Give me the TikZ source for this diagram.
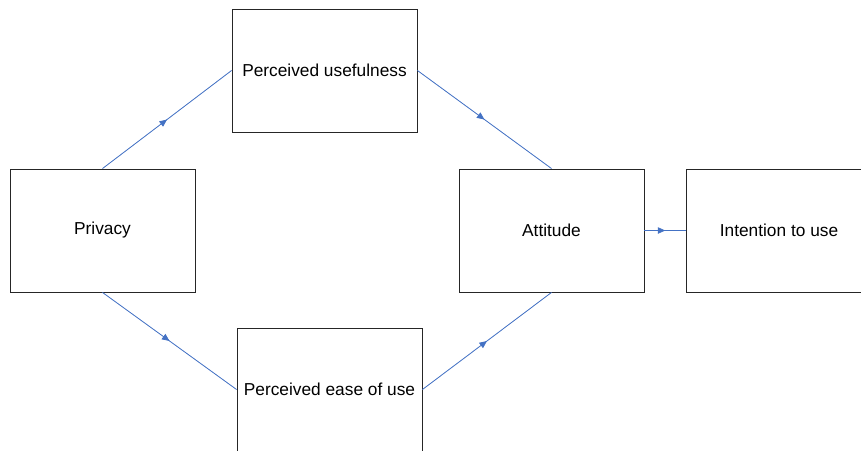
\documentclass[tikz,border=0pt]{standalone}
\usepackage{fontspec}
\setmainfont{Liberation Sans}
\usetikzlibrary{decorations.markings,arrows.meta}
\definecolor{linkblue}{HTML}{4472C4}
\begin{document}
\begin{tikzpicture}[x=1pt,y=-1pt,
  construct/.style={draw=black!85,line width=0.9pt,minimum width=185pt,minimum height=123pt,
    inner sep=0pt,font=\fontsize{17.3}{20}\selectfont,fill=white},
  link/.style={draw=linkblue,line width=0.8pt,postaction={decorate},
    decoration={markings,mark=at position 0.5 with {\arrow{Triangle[length=7.5pt,width=6.5pt]}}},
    fill=linkblue}]
\useasboundingbox (0,0) rectangle (861,450);
\clip (0,0) rectangle (861,450);
\node[construct] (priv) at (102.5,230.5) {Privacy};
\node[construct] (pu) at (324.5,70.5) {Perceived usefulness};
\node[construct] (att) at (551.5,230.5) {Attitude};
\node[construct] (int) at (779,230.5) {Intention to use};
\node[construct] (peou) at (329.5,389.5) {Perceived ease of use};
\draw[link] (priv.north) -- (pu.west);
\draw[link] (pu.east) -- (att.north);
\draw[link] (priv.south) -- (peou.west);
\draw[link] (peou.east) -- (att.south);
\draw[link] (att.east) -- (int.west);
\end{tikzpicture}
\end{document}
